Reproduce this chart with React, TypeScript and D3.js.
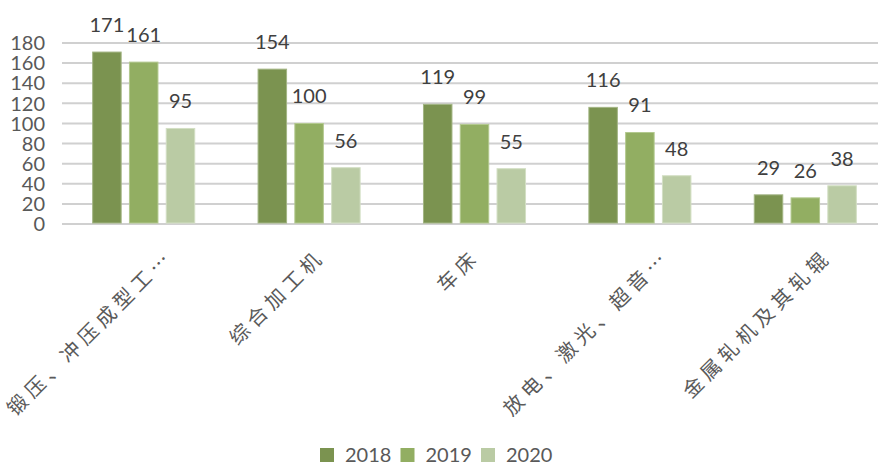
import React from "react";
import * as d3 from "d3";

const categories = ["锻压、冲压成型工…", "综合加工机", "车床", "放电、激光、超音…", "金属轧机及其轧辊"];
const years = ["2018", "2019", "2020"];
const values2018 = [171, 154, 119, 116, 29];
const values2019 = [161, 100, 99, 91, 26];
const values2020 = [95, 56, 55, 48, 38];
const yTicks = [0, 20, 40, 60, 80, 100, 120, 140, 160, 180];

const colors = ["#7b9350", "#92ae62", "#bacba4"];
const strokes = ["#a3b584", "#b3c98f", "#d3dfc4"];
const seriesValues = [values2018, values2019, values2020];

const W = 878;
const H = 465;
const latin = "Lato, 'Noto Sans', sans-serif";
const cjk = "'Noto Sans CJK SC', sans-serif";

export default function App() {
  const x0 = d3.scaleBand<string>().domain(categories).range([61, 888]).padding(0);
  const x1 = d3
    .scaleBand<string>()
    .domain(years)
    .range([0, x0.bandwidth()])
    .paddingInner(0.225)
    .paddingOuter(0.861);
  const y = d3.scaleLinear().domain([0, 180]).range([224, 43]);

  return (
    <svg
      width={W}
      height={H}
      style={{ position: "absolute", left: 0, top: 0, background: "#fff" }}
    >
      {yTicks.map((t) => (
        <g key={t}>
          <line x1={62} x2={878} y1={y(t)} y2={y(t)} stroke="#d0d0d0" strokeWidth={2} />
          <text
            x={45}
            y={y(t)}
            dy="0.36em"
            textAnchor="end"
            fontFamily={latin}
            fontSize={20}
            fill="#595959"
          >
            {t}
          </text>
        </g>
      ))}
      {categories.map((c, ci) => {
        const cx = (x0(c) as number) + x0.bandwidth() / 2;
        const px = cx + 3.5 * c.length - 5.5;
        return (
          <g key={c}>
            {years.map((yr, si) => {
              const v = seriesValues[si][ci];
              const bx = (x0(c) as number) + (x1(yr) as number);
              const bw = x1.bandwidth();
              return (
                <g key={yr}>
                  <rect
                    x={bx}
                    y={y(v)}
                    width={bw}
                    height={y(0) - y(v) - 1}
                    fill={colors[si]}
                    stroke={strokes[si]}
                    strokeWidth={1}
                  />
                  <text
                    x={bx + bw / 2}
                    y={y(v) - 20}
                    textAnchor="middle"
                    fontFamily={latin}
                    fontSize={20}
                    fill="#404040"
                  >
                    {v}
                  </text>
                </g>
              );
            })}
            <text
              transform={`translate(${px},${253}) rotate(-45)`}
              textAnchor="end"
              dy="0.35em"
              fontFamily={cjk}
              fontSize={20}
              letterSpacing={5}
              fill="#5a5a5a"
            >
              {c}
            </text>
          </g>
        );
      })}
      {years.map((yr, i) => {
        const lx = 320 + i * 80.5;
        return (
          <g key={yr}>
            <rect x={lx} y={448} width={14} height={14} fill={colors[i]} />
            <text x={lx + 25} y={462} fontFamily={latin} fontSize={20} fill="#595959">
              {yr}
            </text>
          </g>
        );
      })}
    </svg>
  );
}
